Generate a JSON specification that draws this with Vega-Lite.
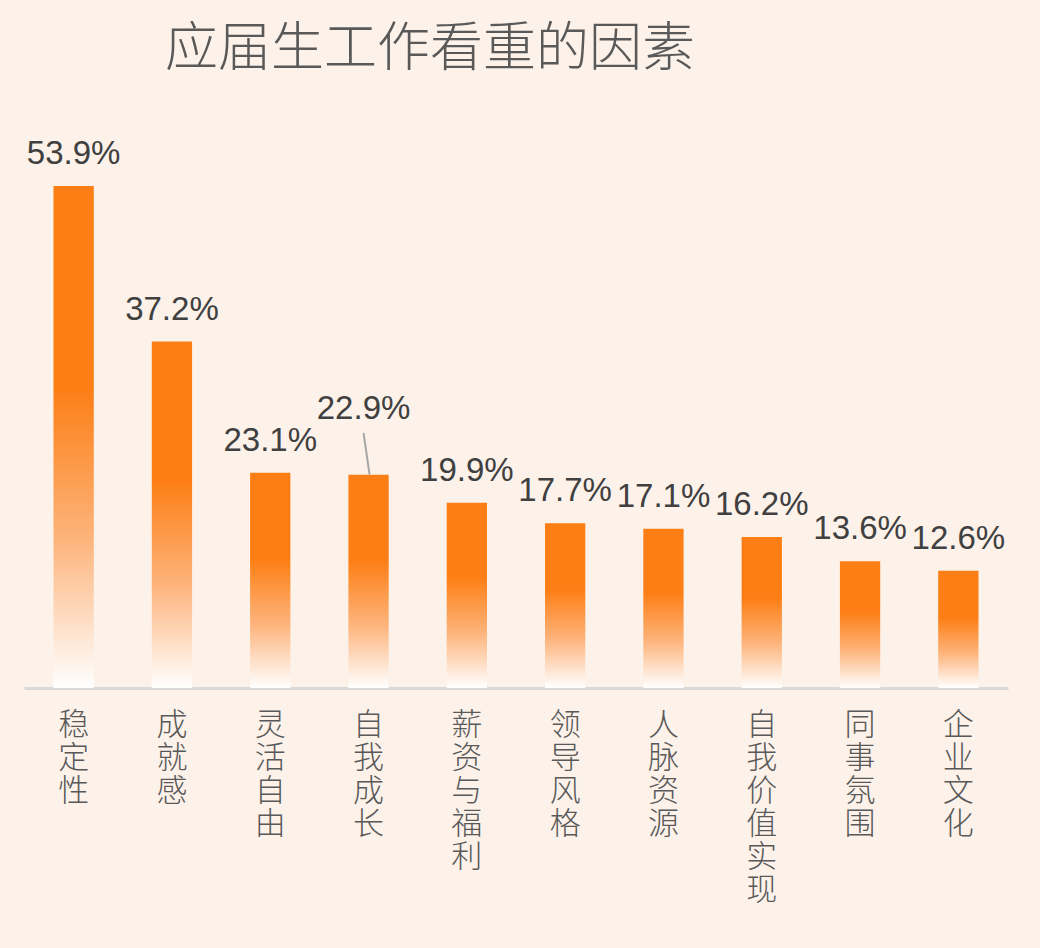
{
  "$schema": "https://vega.github.io/schema/vega-lite/v6.json",
  "autosize": "none",
  "width": 984,
  "height": 588,
  "padding": {"left": 24, "top": 100, "right": 32, "bottom": 260},
  "background": "#FDF2EA",
  "title": {
    "text": "应届生工作看重的因素",
    "anchor": "start",
    "frame": "group",
    "dx": 141,
    "offset": 23,
    "font": "Noto Sans CJK SC",
    "fontSize": 53,
    "fontWeight": 300,
    "color": "#595959"
  },
  "config": {"view": {"stroke": null}},
  "data": {
    "values": [
      {"factor": "稳定性", "pct": 53.9},
      {"factor": "成就感", "pct": 37.2},
      {"factor": "灵活自由", "pct": 23.1},
      {"factor": "自我成长", "pct": 22.9},
      {"factor": "薪资与福利", "pct": 19.9},
      {"factor": "领导风格", "pct": 17.7},
      {"factor": "人脉资源", "pct": 17.1},
      {"factor": "自我价值实现", "pct": 16.2},
      {"factor": "同事氛围", "pct": 13.6},
      {"factor": "企业文化", "pct": 12.6}
    ]
  },
  "encoding": {
    "x": {
      "field": "factor",
      "type": "nominal",
      "sort": null,
      "scale": {"paddingInner": 0.59, "paddingOuter": 0.3},
      "axis": {
        "title": null,
        "labelAngle": 0,
        "labelExpr": "split(datum.label, '')",
        "labelFont": "Noto Sans CJK SC",
        "labelFontSize": 31,
        "labelFontWeight": 300,
        "labelLineHeight": 33,
        "labelColor": "#595959",
        "labelBaseline": "top",
        "labelPadding": 22,
        "ticks": false,
        "domainColor": "#D9D9D9",
        "domainWidth": 3
      }
    },
    "y": {
      "field": "pct",
      "type": "quantitative",
      "scale": {"domain": [0, 63.13], "nice": false},
      "axis": null
    }
  },
  "layer": [
    {
      "mark": {
        "type": "bar",
        "color": {
          "gradient": "linear",
          "x1": 0, "y1": 0, "x2": 0, "y2": 1,
          "stops": [
            {"offset": 0, "color": "#FD7E14"},
            {"offset": 0.4, "color": "#FD7E14"},
            {"offset": 0.7, "color": "#FDB37A"},
            {"offset": 1, "color": "#FFFFFF"}
          ]
        }
      }
    },
    {
      "transform": [
        {"filter": "datum.factor != '自我成长'"},
        {"calculate": "format(datum.pct, '.1f') + '%'", "as": "label"}
      ],
      "mark": {
        "type": "text",
        "baseline": "alphabetic",
        "dy": -22,
        "font": "Liberation Sans",
        "fontSize": 33,
        "color": "#404040"
      },
      "encoding": {"text": {"field": "label", "type": "nominal"}}
    },
    {
      "transform": [
        {"filter": "datum.factor == '自我成长'"},
        {"calculate": "format(datum.pct, '.1f') + '%'", "as": "label"}
      ],
      "mark": {
        "type": "text",
        "baseline": "alphabetic",
        "dx": -5,
        "dy": -56,
        "font": "Liberation Sans",
        "fontSize": 33,
        "color": "#404040"
      },
      "encoding": {"text": {"field": "label", "type": "nominal"}}
    },
    {
      "transform": [{"filter": "datum.factor == '自我成长'"}],
      "mark": {"type": "rule", "color": "#A6A6A6", "strokeWidth": 2, "xOffset": -5, "x2Offset": 1},
      "encoding": {
        "x2": {"field": "factor"},
        "y": {"datum": 27.4},
        "y2": {"field": "pct"}
      }
    }
  ]
}
